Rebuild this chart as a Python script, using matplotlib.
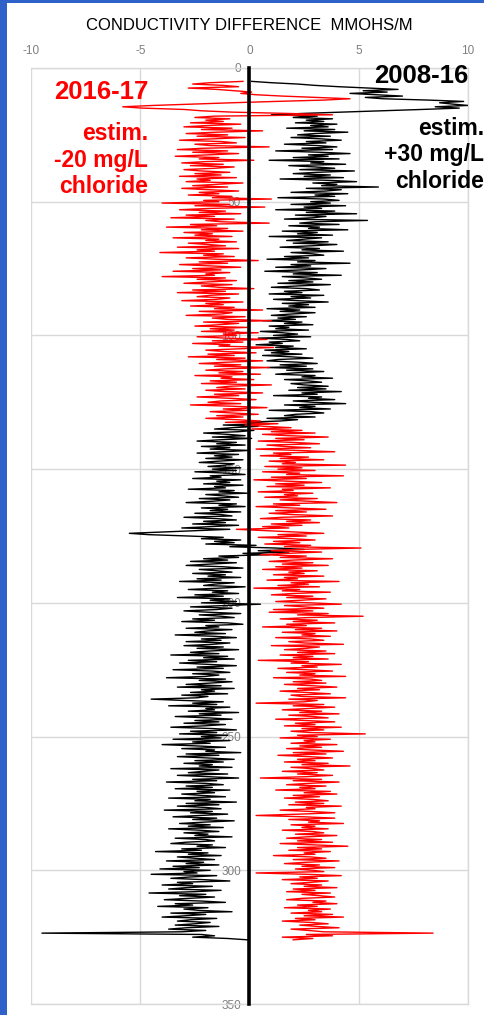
import numpy as np
import matplotlib
matplotlib.use("Agg")
import matplotlib.pyplot as plt
from matplotlib.patches import Rectangle

# ---------------- data ----------------
title = "CONDUCTIVITY DIFFERENCE  MMOHS/M"
x_ticks = [-10, -5, 0, 5, 10]
y_ticks = [0, 50, 100, 150, 200, 250, 300, 350]
depth_start = 5.0   # m, first sample depth
depth_step = 0.5    # m, sample spacing

# 2008-16 difference (black), depth 5 .. 326 m, every 0.5 m
diff_2008_16 = [
    0.1, 1.0, 2.2, 3.0, 4.1, 5.5, 6.8, 5.2, 6.3, 4.6,
    5.8, 7.0, 5.3, 6.1, 8.2, 9.8, 8.7, 9.3, 10.0, 8.5, 9.6, 7.9, 6.0, 4.2, 2.4, 1.0, 3.1, 2.0, 3.8, 2.6,
    3.4, 2.1, 4.0, 2.8, 3.6, 1.7, 3.9, 2.5, 4.5, 3.0, 2.2, 3.7, 1.9, 3.3, 4.2, 2.6, 3.5, 1.6, 3.1, 4.0,
    2.4, 3.8, 1.2, 3.2, 4.6, 2.7, 3.6, 2.0, 4.1, 0.9, 3.4, 2.8, 4.4, 1.8, 3.0, 3.9, 2.3, 4.8, 3.1, 2.0,
    3.7, 2.5, 4.3, 1.4, 3.6, 4.9, 2.9, 4.0, 3.3, 5.9, 2.6, 4.2, 3.5, 1.9, 4.5, 3.0, 3.9, 1.3, 3.4, 4.1,
    2.8, 3.7, 1.9, 4.4, 2.5, 3.3, 1.2, 3.9, 2.6, 4.9, 2.1, 3.5, 2.9, 1.6, 5.4, 3.0, 2.3, 4.1, 1.8, 3.2,
    2.7, 4.5, 1.5, 3.1, 2.2, 3.8, 0.9, 3.3, 2.5, 1.7, 3.6, 2.0, 4.0, 2.8, 1.4, 3.2, 2.4, 4.3, 1.9, 2.9,
    3.4, 1.6, 2.7, 0.8, 3.0, 2.2, 4.6, 1.9, 2.8, 1.2, 3.5, 2.4, 0.7, 3.1, 2.0, 4.2, 1.5, 2.6, 3.3, 1.8,
    2.9, 1.3, 3.7, 2.2, 1.0, 2.6, 3.2, 1.6, 2.4, 0.9, 3.4, 1.9, 2.8, 1.1, 2.2, 3.6, 1.5, 2.7, 1.8, 3.0,
    0.8, 2.3, 1.4, 3.0, 1.9, 1.0, 2.6, 1.3, 2.1, 0.6, 2.4, 1.6, 2.9, 0.9, 1.8, 1.2, 2.7, 0.5, 1.5, 2.2,
    1.1, 2.8, 0.4, 1.7, 2.3, 0.9, 1.5, 0.3, 2.0, 1.2, 2.6, 0.7, 1.8, 1.0, 2.4, 0.6, 1.9, 2.9, 1.3, 0.8,
    2.2, 3.1, 1.4, 2.6, 0.8, 2.9, 1.7, 3.4, 2.1, 1.2, 3.0, 2.4, 3.8, 1.6, 2.7, 3.3, 1.9, 2.5, 3.6, 2.2,
    3.5, 1.8, 4.2, 2.4, 3.1, 1.1, 3.3, 2.7, 3.9, 2.0, 2.9, 4.4, 1.6, 3.0, 2.3, 3.7, 0.9, 2.8, 3.4, 2.1,
    1.6, 3.0, 0.8, 2.2, 1.4, -0.3, 0.9, -1.2, 0.4, -0.8, -1.6, 0.2, -0.5, -2.1, -1.0, -0.2, -1.7, 0.1, -1.3, -2.4,
    -0.6, -1.5, -0.2, -2.2, -0.9, -1.8, 0.0, -1.2, -2.4, -0.5, -1.6, -0.8, -2.0, -0.3, -1.4, -2.3, -0.7, -1.1, -1.9, -0.4,
    -1.7, -0.6, -2.5, -1.0, -0.2, -1.8, -1.3, -2.6, -0.4, -1.5, -0.9, -2.1, -0.3, -1.6, -1.1, -2.8, -0.7, -1.4, -0.1, -2.0,
    -1.2, -0.5, -2.3, -0.9, -1.7, -2.9, -0.6, -1.4, -0.2, -2.2, -1.0, -1.8, -0.4, -2.5, -1.3, -0.8, -3.0, -1.5, -0.6, -2.1,
    -1.1, -2.6, -0.5, -1.8, -3.1, -0.9, -2.4, -3.9, -5.5, -4.6, -2.8, -1.2, -2.2, -0.4, -1.6, -0.7, -2.0, 0.3, -0.9, 1.2,
    2.5, 0.4, 1.8, -0.3, 0.9, -1.4, -0.5, -2.1, -1.0, -2.7, -0.6, -1.8, -2.9, -1.2, -0.3, -2.3, -1.5, -0.8, -2.6, -1.1,
    -1.9, -0.4, -2.4, -1.3, -3.2, -0.7, -1.6, -2.1, -0.2, -1.4, -2.8, -1.0, -1.7, -0.5, -2.5, -1.2, -3.3, -0.9, -1.8, -0.6,
    -2.2, 0.5, -1.1, -2.7, -0.8, -1.5, -3.0, -1.9, -0.4, -2.3, -1.3, -0.7, -2.6, -1.6, -3.1, -1.0, -0.3, -2.0, -1.4, -2.9,
    -0.8, -1.9, -2.5, -1.1, -3.4, -1.6, -0.6, -2.2, -1.3, -2.9, -0.9, -1.7, -3.0, -1.2, -2.4, -0.5, -1.8, -2.7, -1.4, -3.6,
    -1.0, -2.1, -0.7, -2.8, -1.5, -3.2, -1.9, -0.6, -2.4, -1.2, -3.5, -1.7, -0.9, -2.6, -1.4, -2.0, -3.8, -1.1, -2.3, -0.8,
    -1.8, -2.9, -1.3, -3.3, -0.7, -2.2, -1.6, -2.7, -1.0, -3.1, -1.9, -2.4, -4.5, -3.0, -1.2, -2.6, -1.5, -3.7, -0.9, -2.0,
    -1.6, -2.8, -0.5, -2.3, -1.3, -3.4, -1.9, -0.8, -2.5, -1.4, -3.0, -1.1, -2.1, -3.6, -1.7, -0.6, -2.7, -1.5, -3.2, -1.0,
    -2.2, -1.3, -3.5, -0.9, -2.6, -1.8, -4.0, -2.4, -1.1, -3.1, -1.6, -2.0, -0.4, -2.9, -1.4, -3.3, -1.9, -0.7, -2.5, -1.2,
    -3.0, -1.7, -2.3, -0.8, -3.6, -1.4, -2.1, -2.8, -1.0, -3.3, -1.9, -0.5, -2.6, -1.5, -3.8, -2.0, -1.2, -2.9, -1.7, -3.4,
    -0.9, -2.4, -1.6, -3.1, -2.2, -1.1, -3.7, -1.8, -2.5, -0.6, -2.9, -1.4, -3.3, -2.0, -1.3, -3.9, -1.7, -2.7, -1.0, -2.3,
    -3.5, -1.5, -2.6, -0.7, -2.1, -3.2, -1.8, -2.8, -1.2, -3.7, -2.3, -1.4, -3.0, -1.9, -2.5, -0.8, -3.4, -2.0, -1.6, -2.9,
    -3.6, -1.7, -2.4, -1.1, -3.1, -2.2, -4.3, -1.9, -2.8, -1.3, -3.3, -2.5, -1.6, -3.8, -2.1, -2.9, -1.4, -3.5, -2.3, -4.1,
    -1.8, -3.0, -2.4, -4.5, -1.5, -2.7, -3.6, -2.1, -0.9, -3.3, -2.6, -4.0, -1.7, -2.9, -3.7, -1.3, -2.5, -4.6, -2.0, -3.2,
    -1.6, -2.8, -3.9, -2.2, -1.1, -3.4, -2.6, -4.2, -1.9, -3.0, -2.3, -0.8, -3.6, -2.0, -2.9, -4.0, -1.5, -2.7, -3.3, -1.8,
    -2.5, -3.4, -1.4, -2.9, -3.7, -2.0, -3.1, -9.5, -2.2, -1.6, -2.6, -1.0, -0.1,
]

# 2016-17 difference (red), depth 5 .. 326 m, every 0.5 m
diff_2016_17 = [
    -0.3, -1.8, -2.6, -1.2, -0.5, -2.8, -1.5, -0.7, 0.1, -0.4,
    0.3, 1.5, 3.0, 4.6, 3.4, 1.2, -0.8, -2.6, -4.4, -5.8, -4.9, -3.0, -2.2, -0.8, 1.8, 3.8, -1.6, -2.5, -0.9, -2.0,
    -1.2, -2.7, -0.4, -1.9, -3.0, -0.8, -2.2, 0.6, -1.5, -2.9, -1.0, -2.4, -0.2, -1.7, -3.2, -1.3, -0.6, -2.5, -1.8, 0.9,
    -2.1, -3.3, -1.0, -2.6, -0.5, -1.9, -3.4, -1.4, -2.3, 0.2, -2.0, -3.1, -1.2, -2.7, -0.7, -1.6, -3.0, -2.2, -0.9, -2.5,
    -1.3, -3.2, -0.6, -2.4, -1.8, -2.9, -0.3, -1.5, -2.6, -1.0, -3.1, -1.9, -0.5, -2.3, -1.4, -2.8, -0.8, -1.7, 1.0, -2.1,
    -1.4, -4.0, -0.9, -2.5, 0.7, -1.8, -3.2, -1.1, -2.3, -0.4, -2.9, -1.6, -3.6, -0.7, -2.0, -1.3, 0.9, -2.7, -1.5, -3.8,
    -1.0, -2.2, -0.3, -3.0, -1.7, -2.5, -0.8, -3.5, -1.4, -2.0, -0.6, -2.8, -1.9, -1.1, -3.3, -0.5, -2.4, -1.6, -4.1, -1.2,
    -2.1, -0.7, -2.9, -1.5, 0.4, -2.3, -1.0, -3.2, -1.8, -0.4, -2.6, -1.3, -3.5, -0.9, -2.0, -1.6, -4.0, -1.1, -2.4, -0.6,
    -1.9, -3.0, -0.8, -2.2, -1.4, 0.2, -2.6, -1.1, -3.3, -0.5, -1.8, -2.4, -0.9, -1.5, -3.1, -0.3, -2.0, -1.2, -2.7, -0.7,
    -1.6, 0.6, -2.3, -0.8, -1.3, -2.9, -0.2, -1.7, -1.0, 1.0, -2.1, -0.5, -1.4, -2.5, -0.1, -1.8, -0.7, -2.2, 0.4, -1.2,
    -0.6, -2.4, -1.1, 0.8, -1.7, -0.3, -2.6, -0.9, -1.4, 1.1, -0.5, -2.0, -1.2, 0.3, -1.9, -0.7, -2.8, -0.2, -1.5, 0.6,
    -1.0, -2.3, -0.4, -1.6, 0.9, -1.1, -2.0, -0.3, -1.4, 0.5, -2.5, -0.8, -1.3, 0.2, -1.8, -0.6, -2.2, 1.0, -0.9, -1.5,
    -0.2, -2.0, -1.1, 0.6, -1.6, -0.5, -2.4, -0.9, 0.3, -1.3, -1.9, -0.4, -2.7, -0.7, 0.8, -1.2, -0.1, -1.8, -0.8, 0.4,
    -1.5, -0.3, -2.0, -0.6, 0.5, -1.1, 1.3, -0.2, 0.7, 1.9, 0.1, 2.4, 1.0, 3.0, 0.6, 1.8, 3.6, 1.2, 2.5, 0.4,
    2.0, 3.2, 0.8, 1.6, 2.8, 0.3, 2.2, 3.9, 1.1, 1.9, 0.5, 2.7, 1.4, 3.4, 0.9, 2.1, 1.5, 4.4, 0.7, 2.4,
    1.3, 3.0, 0.6, 2.3, 1.7, 4.3, 1.0, 2.6, 0.2, 1.8, 3.3, 1.2, 2.5, 0.8, 3.7, 1.5, 2.0, 0.4, 2.9, 1.6,
    2.2, 0.7, 3.1, 1.4, 2.7, 4.0, 1.1, 2.3, 0.3, 1.9, 3.5, 1.2, 2.6, 0.9, 2.0, 3.8, 1.5, 0.5, 2.8, 1.7,
    3.2, 1.0, 2.4, 0.6, 1.8, -0.6, 0.8, 2.1, 3.4, 1.3, 2.6, 0.4, 1.9, 3.0, 1.1, 2.3, 0.7, 2.8, 1.6, 5.1,
    2.2, 1.0, 3.3, 1.7, 0.5, 2.6, 1.4, 3.8, 2.0, 0.9, 2.9, 1.5, 3.6, 1.2, 2.4, 0.6, 3.1, 1.8, 2.5, 1.1,
    3.4, 1.6, 2.2, 0.8, 4.1, 1.9, 2.7, 1.3, 3.2, 0.2, 2.3, 1.5, 3.7, 2.0, 1.0, 2.9, 1.7, 3.5, 2.4, 1.2,
    2.8, 4.2, 1.6, 2.5, 3.4, 1.1, 2.9, 0.9, 3.6, 2.2, 5.2, 2.7, 1.4, 3.1, 2.0, 3.9, 1.7, 2.6, 0.6, 3.3,
    2.1, 4.0, 1.5, 3.0, 2.4, 3.7, 1.2, 2.8, 3.4, 1.8, 2.5, 4.3, 1.0, 3.2, 2.6, 1.6, 3.5, 2.2, 3.9, 1.4,
    2.9, 2.0, 3.6, 0.4, 2.7, 1.9, 4.2, 2.4, 3.1, 1.3, 2.6, 3.8, 1.7, 3.0, 2.3, 4.4, 1.1, 2.8, 3.3, 2.0,
    3.5, 1.6, 2.9, 4.0, 2.2, 3.2, 1.4, 2.6, 3.7, 1.9, 2.4, 4.4, 1.8, 3.1, 2.5, 0.3, 3.4, 2.0, 3.9, 2.7,
    1.5, 3.3, 2.3, 4.1, 1.8, 2.9, 3.6, 1.2, 2.6, 3.9, 2.1, 3.0, 1.6, 4.2, 2.4, 3.4, 1.9, 2.8, 5.3, 2.2,
    3.1, 1.4, 3.7, 2.5, 3.0, 1.9, 4.0, 2.3, 3.3, 1.7, 2.8, 4.3, 2.0, 3.5, 1.3, 2.7, 3.8, 2.2, 3.0, 1.6,
    3.6, 2.4, 4.6, 1.9, 2.9, 3.4, 1.5, 3.1, 2.2, 3.8, 2.6, 0.5, 3.3, 2.0, 4.1, 2.7, 1.7, 3.5, 2.3, 3.0,
    1.2, 3.7, 2.5, 4.0, 2.0, 3.2, 1.6, 2.9, 3.6, 2.1, 3.4, 1.8, 4.2, 2.6, 3.0, 1.4, 2.8, 3.9, 2.3, 0.3,
    2.5, 3.9, 1.8, 3.2, 2.7, 4.3, 1.9, 3.0, 2.4, 3.6, 1.5, 2.9, 3.4, 2.1, 4.0, 2.6, 1.7, 3.3, 2.2, 3.8,
    1.4, 2.9, 4.5, 2.2, 3.3, 1.8, 3.7, 2.5, 3.0, 1.1, 2.8, 3.5, 2.0, 4.1, 2.6, 1.6, 3.2, 2.4, 3.9, 2.1,
    2.9, 3.4, 0.3, 2.6, 4.2, 2.3, 3.1, 1.5, 3.6, 2.8, 1.9, 3.3, 2.5, 4.0, 2.0, 3.0, 1.7, 3.7, 2.4, 3.2,
    3.9, 2.4, 1.7, 3.5, 2.9, 4.0, 2.2, 3.1, 1.6, 3.7, 2.7, 3.3, 1.9, 3.8, 2.5, 4.3, 2.1, 3.0, 1.5, 2.8,
    3.6, 2.3, 3.1, 4.1, 1.9, 2.7, 3.4, 8.4, 2.6, 3.8, 1.5, 2.9, 2.0,
]

depth_black = depth_start + depth_step * np.arange(len(diff_2008_16))
depth_red = depth_start + depth_step * np.arange(len(diff_2016_17))

# ---------------- figure ----------------
plt.rcParams['font.family'] = ['Liberation Sans', 'DejaVu Sans']
plt.rcParams['axes.unicode_minus'] = False
fig = plt.figure(figsize=(4.85, 10.15), dpi=100)
fig.patch.set_facecolor('white')

# blue frame on the left / top edge
fig.patches.append(Rectangle((0, 0), 7 / 485, 1, transform=fig.transFigure,
                             facecolor='#2f62c8', edgecolor='none', zorder=10))
fig.patches.append(Rectangle((0, 1 - 2.5 / 1015), 1, 2.5 / 1015, transform=fig.transFigure,
                             facecolor='#2f62c8', edgecolor='none', zorder=10))

ax = fig.add_axes([31 / 485, 1 - 1004 / 1015, (468 - 31) / 485, (1004 - 68) / 1015])

grid_c = '#d9d9d9'
ax.plot(diff_2008_16, depth_black, color='black', lw=1.0, zorder=3)
ax.plot(diff_2016_17, depth_red, color='#ff0000', lw=1.0, zorder=3.1)

ax.set_xlim(-10, 10)
ax.set_ylim(350, 0)
ax.set_xticks(x_ticks)
ax.set_yticks(y_ticks)
ax.xaxis.tick_top()
ax.grid(True, color=grid_c, lw=1.0)
ax.set_axisbelow(True)

for s in ['top', 'right', 'bottom']:
    ax.spines[s].set_color(grid_c)
    ax.spines[s].set_linewidth(1.0)
ax.spines['left'].set_position(('data', 0))
ax.spines['left'].set_color('black')
ax.spines['left'].set_linewidth(2.6)
ax.spines['left'].set_zorder(5)

ax.tick_params(axis='x', length=0, pad=8, labelsize=8.5, labelcolor='#7f7f7f')
ax.tick_params(axis='y', length=0, pad=6, labelsize=8.5, labelcolor='#7f7f7f')

fig.text(249 / 485, 1 - 25 / 1015, title, ha='center', va='center',
         fontsize=12, color='black')

# annotations
fig.text(101 / 485, 1 - 92 / 1015, '2016-17', ha='center', va='center',
         fontsize=18.5, fontweight='bold', color='#ff0000')
fig.text(148 / 485, 1 - 160 / 1015, 'estim.\n-20 mg/L\nchloride', ha='right', va='center',
         fontsize=16.5, fontweight='bold', color='#ff0000', linespacing=1.18)
fig.text(468 / 485, 1 - 76 / 1015, '2008-16', ha='right', va='center',
         fontsize=18.5, fontweight='bold', color='black')
fig.text(484 / 485, 1 - 155 / 1015, 'estim.\n+30 mg/L\nchloride', ha='right', va='center',
         fontsize=16.5, fontweight='bold', color='black', linespacing=1.18)

fig.savefig('out.png', dpi=100, facecolor='white')
